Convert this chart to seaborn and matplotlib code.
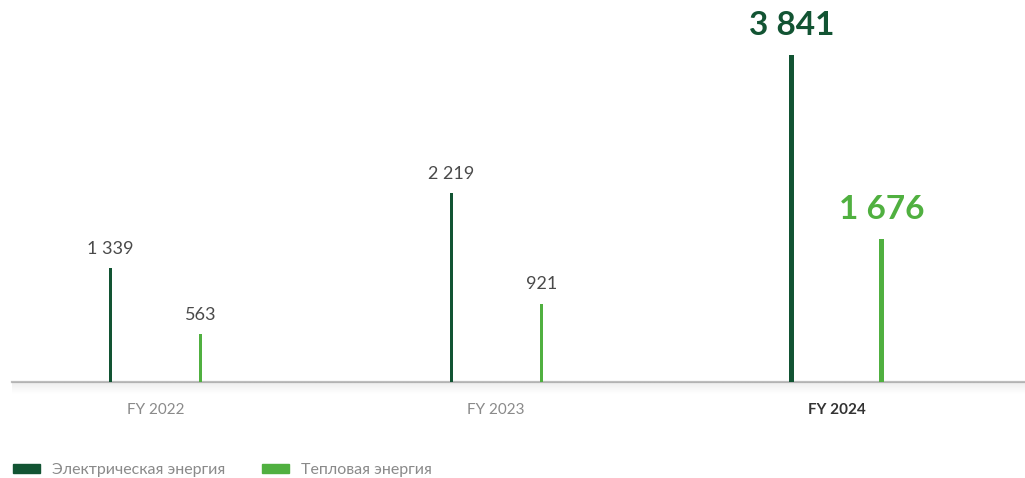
import seaborn as sns
import matplotlib.pyplot as plt
import numpy as np
import pandas as pd
from matplotlib.patches import Patch

# data
years = ['FY 2022', 'FY 2023', 'FY 2024']
electric = [1339, 2219, 3841]
heat = [563, 921, 1676]
series = ['Электрическая энергия', 'Тепловая энергия']
electric_labels = ['1 339', '2 219', '3 841']
heat_labels = ['563', '921', '1 676']

dark = '#125433'
light = '#50b040'

df = pd.DataFrame({
    'year': years * 2,
    'value': electric + heat,
    'type': [series[0]] * 3 + [series[1]] * 3,
})

sns.set_style('white')
plt.rcParams['font.family'] = ['Lato', 'Noto Sans', 'DejaVu Sans']

fig = plt.figure(figsize=(10.25, 4.78), dpi=100)
ax = fig.add_axes([12 / 1025, 96 / 478, 1013 / 1025, 382 / 478])

sns.barplot(data=df, x='year', y='value', hue='type', palette=[dark, light],
            width=0.53, saturation=1, legend=False, ax=ax)

# thin the bars down to lines, last year a bit thicker
for p in ax.patches:
    h = p.get_height()
    if not h or np.isnan(h):
        continue
    cx = p.get_x() + p.get_width() / 2
    w = 0.0147 if cx > 1.5 else 0.0088
    p.set_x(cx - w / 2)
    p.set_width(w)
    p.set_edgecolor('none')

ax.set_xlim(-0.422, -0.422 + 1013 / 340.5)
ax.set_ylim(0, 3841 * 382 / 327)

# value labels
for i in range(3):
    for val, lab, col, off in [(electric[i], electric_labels[i], dark, -0.132),
                               (heat[i], heat_labels[i], light, 0.132)]:
        if i == 2:
            ax.annotate(lab, (i + off, val), xytext=(0, 11), textcoords='offset points',
                        ha='center', va='bottom', fontsize=24, fontweight='bold',
                        color=col)
        else:
            ax.annotate(lab, (i + off, val), xytext=(0, 8), textcoords='offset points',
                        ha='center', va='bottom', fontsize=13,
                        color='#4a4a4a')

ax.set_xlabel('')
ax.set_ylabel('')
ax.set_yticks([])
ax.set_xticks([0, 1, 2])
ax.set_xticklabels(years, fontsize=11, color='#8a8a8a')
ax.get_xticklabels()[2].set_fontweight('bold')
ax.get_xticklabels()[2].set_color('#333333')
ax.tick_params(axis='x', length=0, pad=15)

for s in ['top', 'right', 'left']:
    ax.spines[s].set_visible(False)
ax.spines['bottom'].set_color('#bdbdbd')
ax.spines['bottom'].set_linewidth(1.6)
ax.spines['bottom'].set_zorder(0)

# soft shadow under the baseline
shadow = fig.add_axes([12 / 1025, 84 / 478, 1013 / 1025, 12 / 478])
grad = np.linspace(0.12, 0, 50).reshape(-1, 1) * np.ones((1, 200))
rgba = np.zeros((50, 200, 4))
rgba[..., :3] = 0.4
rgba[..., 3] = grad
shadow.imshow(rgba, aspect='auto', extent=(0, 1, 0, 1))
shadow.axis('off')

handles = [Patch(color=dark, label=series[0]), Patch(color=light, label=series[1])]
leg = ax.legend(handles=handles, loc='center left', bbox_to_anchor=(13 / 1025, 8 / 478),
                bbox_transform=fig.transFigure, ncol=2, frameon=False, fontsize=11.5,
                handlelength=1.7, handleheight=0.5, handletextpad=0.75,
                columnspacing=2.3, borderpad=0, borderaxespad=0)
for t in leg.get_texts():
    t.set_color('#8a8a8a')

fig.savefig('out.png', dpi=100)
